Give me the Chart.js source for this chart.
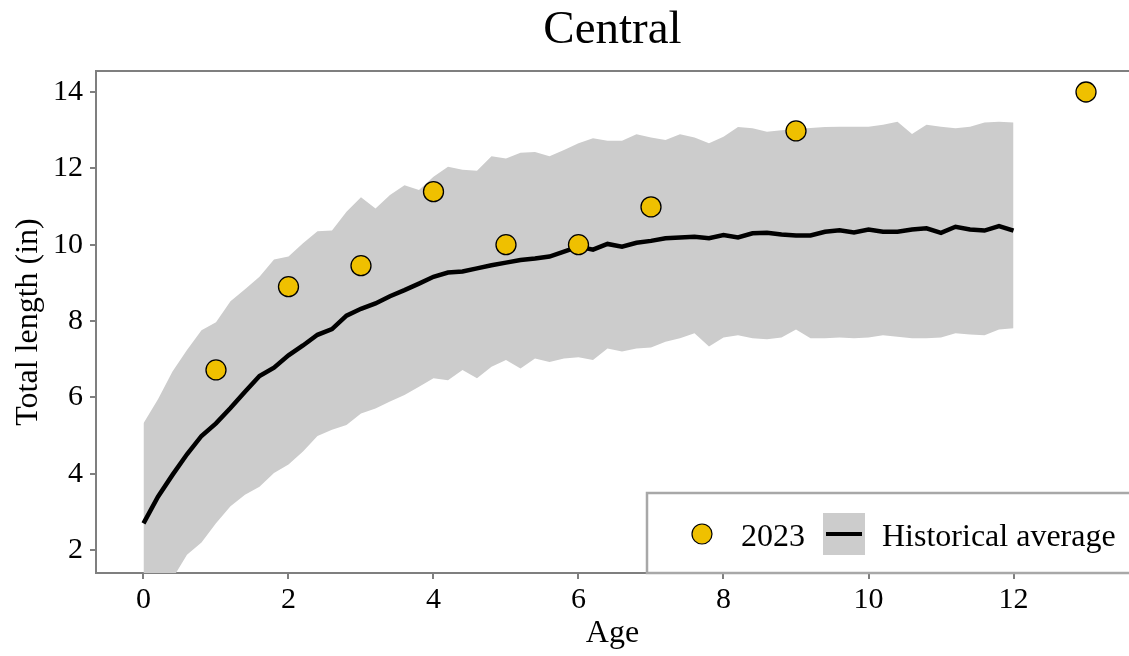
<!DOCTYPE html>
<html>
<head>
<meta charset="utf-8">
<script src="https://cdn.jsdelivr.net/npm/chart.js@4.4.1/dist/chart.umd.min.js"></script>
<style>
  html, body { margin: 0; padding: 0; background: #fff; overflow: hidden; }
  #wrap { width: 1129px; height: 656px; overflow: hidden; position: relative; }
</style>
</head>
<body>
<div id="wrap"><canvas id="chartCentral"></canvas></div>
<script>
const ages = [0, 0.2, 0.4, 0.6, 0.8, 1, 1.2, 1.4, 1.6, 1.8, 2, 2.2, 2.4, 2.6, 2.8, 3, 3.2, 3.4, 3.6, 3.8,
  4, 4.2, 4.4, 4.6, 4.8, 5, 5.2, 5.4, 5.6, 5.8, 6, 6.2, 6.4, 6.6, 6.8, 7, 7.2, 7.4, 7.6, 7.8,
  8, 8.2, 8.4, 8.6, 8.8, 9, 9.2, 9.4, 9.6, 9.8, 10, 10.2, 10.4, 10.6, 10.8, 11, 11.2, 11.4, 11.6, 11.8, 12]

const histMean = [2.70, 3.40, 3.97, 4.51, 4.99, 5.32, 5.72, 6.15, 6.56, 6.78, 7.10, 7.36, 7.64, 7.79, 8.14, 8.32, 8.46, 8.65, 8.81, 8.98,
  9.16, 9.27, 9.30, 9.38, 9.46, 9.53, 9.60, 9.64, 9.69, 9.82, 9.95, 9.87, 10.02, 9.95, 10.05, 10.10, 10.17, 10.19, 10.21, 10.17,
  10.25, 10.19, 10.30, 10.31, 10.27, 10.24, 10.24, 10.34, 10.38, 10.32, 10.40, 10.34, 10.34, 10.40, 10.43, 10.31, 10.47, 10.40, 10.37, 10.49, 10.37]

const histUpper = [5.32, 5.95, 6.68, 7.24, 7.76, 7.97, 8.52, 8.83, 9.16, 9.61, 9.69, 10.04, 10.35, 10.37, 10.86, 11.24, 10.95, 11.30, 11.56, 11.43,
  11.78, 12.04, 11.96, 11.94, 12.32, 12.26, 12.41, 12.43, 12.32, 12.48, 12.66, 12.79, 12.72, 12.72, 12.89, 12.81, 12.74, 12.89, 12.81, 12.66,
  12.83, 13.08, 13.05, 12.96, 13.00, 13.03, 13.06, 13.08, 13.09, 13.09, 13.09, 13.14, 13.22, 12.90, 13.14, 13.09, 13.05, 13.09, 13.20, 13.22, 13.20]

const histLower = [0.00, 0.70, 1.25, 1.88, 2.20, 2.70, 3.15, 3.45, 3.66, 4.02, 4.24, 4.58, 4.99, 5.15, 5.28, 5.58, 5.71, 5.89, 6.06, 6.28,
  6.50, 6.45, 6.72, 6.50, 6.80, 6.98, 6.76, 7.02, 6.93, 7.02, 7.05, 6.98, 7.28, 7.20, 7.28, 7.31, 7.46, 7.55, 7.68, 7.33,
  7.57, 7.63, 7.55, 7.52, 7.57, 7.78, 7.55, 7.55, 7.57, 7.55, 7.57, 7.63, 7.59, 7.55, 7.55, 7.57, 7.68, 7.65, 7.63, 7.78, 7.81]

const ages2023 = [1, 2, 3, 4, 5, 6, 7, 9, 13]
const length2023 = [6.72, 8.90, 9.45, 11.39, 10.0, 10.0, 10.99, 12.98, 14.0]

const xTicks = [0, 2, 4, 6, 8, 10, 12]
const yTicks = [2, 4, 6, 8, 10, 12, 14]

const serif = "'Liberation Serif', 'Times New Roman', serif"
const axisGrey = '#7f7f7f'
const bandGrey = '#cccccc'
const gold = '#efc000'

const toXY = (xs, ys) => xs.map((x, i) => ({ x: x, y: ys[i] }))

// top edge of the panel and the boxed legend in the bottom right
const panelAndLegend = {
  id: 'panelAndLegend',
  afterDraw(chart) {
    const { ctx, chartArea } = chart
    ctx.save()
    ctx.strokeStyle = axisGrey
    ctx.lineWidth = 2
    ctx.beginPath()
    ctx.moveTo(chartArea.left - 1, chartArea.top)
    ctx.lineTo(chart.width, chartArea.top)
    ctx.stroke()

    const bx = 647
    const by = 493
    const bh = chartArea.bottom - by
    ctx.fillStyle = '#fff'
    ctx.fillRect(bx, by, 520, bh)
    ctx.strokeStyle = '#a8a8a8'
    ctx.lineWidth = 2.5
    ctx.strokeRect(bx, by, 520, bh)

    const cy = by + bh / 2 + 1
    ctx.beginPath()
    ctx.arc(702, cy, 10, 0, Math.PI * 2)
    ctx.fillStyle = gold
    ctx.fill()
    ctx.lineWidth = 1.2
    ctx.strokeStyle = '#000'
    ctx.stroke()

    ctx.font = '32px ' + serif
    ctx.fillStyle = '#000'
    ctx.textBaseline = 'alphabetic'
    ctx.textAlign = 'left'
    ctx.fillText(chart.data.datasets[0].label, 741, cy + 12)

    ctx.fillStyle = bandGrey
    ctx.fillRect(823, cy - 21, 42, 42)
    ctx.strokeStyle = '#000'
    ctx.lineWidth = 4
    ctx.beginPath()
    ctx.moveTo(826, cy)
    ctx.lineTo(862, cy)
    ctx.stroke()

    ctx.fillStyle = '#000'
    ctx.fillText(chart.data.datasets[1].label, 882, cy + 12)
    ctx.restore()
  }
}

const ctx = document.getElementById('chartCentral').getContext('2d')

const chartCentral = new Chart(ctx, {
  type: 'scatter',
  data: {
    datasets: [
      {
        label: '2023',
        data: toXY(ages2023, length2023),
        backgroundColor: gold,
        borderColor: '#000',
        borderWidth: 1.3,
        pointRadius: 10,
        pointHoverRadius: 10,
        showLine: false,
        order: 0
      },
      {
        label: 'Historical average',
        data: toXY(ages, histMean),
        borderColor: '#000',
        borderWidth: 4.5,
        pointRadius: 0,
        showLine: true,
        tension: 0,
        fill: false,
        order: 1
      },
      {
        label: 'upper',
        data: toXY(ages, histUpper),
        borderWidth: 0,
        borderColor: 'rgba(0,0,0,0)',
        backgroundColor: bandGrey,
        pointRadius: 0,
        showLine: true,
        fill: '+1',
        order: 2
      },
      {
        label: 'lower',
        data: toXY(ages, histLower),
        borderWidth: 0,
        borderColor: 'rgba(0,0,0,0)',
        pointRadius: 0,
        showLine: true,
        fill: false,
        order: 3
      }
    ]
  },
  options: {
    responsive: true,
    maintainAspectRatio: false,
    animation: false,
    devicePixelRatio: 1,
    layout: { padding: 0, autoPadding: false },
    scales: {
      x: {
        type: 'linear',
        min: -0.655,
        max: 13.593,
        afterFit: (scale) => {
          scale.height = 83
          scale.paddingLeft = 0
          scale.paddingRight = 0
        },
        afterBuildTicks: (scale) => { scale.ticks = xTicks.map((v) => ({ value: v })) },
        grid: { drawOnChartArea: false, drawTicks: true, tickLength: 6, color: axisGrey, lineWidth: 2 },
        border: { display: true, color: axisGrey, width: 2 },
        ticks: { color: '#000', font: { family: serif, size: 30 }, padding: 3, maxRotation: 0 },
        title: { display: true, text: 'Age', color: '#000', font: { family: serif, size: 32 }, padding: { top: 0, bottom: 3 } }
      },
      y: {
        type: 'linear',
        min: 1.4,
        max: 14.55,
        afterFit: (scale) => {
          scale.width = 96
          scale.paddingTop = 0
          scale.paddingBottom = 0
        },
        afterBuildTicks: (scale) => { scale.ticks = yTicks.map((v) => ({ value: v })) },
        grid: { drawOnChartArea: false, drawTicks: true, tickLength: 6, color: axisGrey, lineWidth: 2 },
        border: { display: true, color: axisGrey, width: 2 },
        ticks: { color: '#000', font: { family: serif, size: 30 }, padding: 7 },
        title: { display: true, text: 'Total length (in)', color: '#000', font: { family: serif, size: 32 }, padding: { top: 9, bottom: 0 } }
      }
    },
    plugins: {
      title: {
        display: true,
        fullSize: false,
        text: 'Central',
        color: '#000',
        font: { family: serif, size: 47, weight: 'normal' },
        padding: { top: 2, bottom: 12.6 }
      },
      legend: { display: false },
      tooltip: { enabled: false }
    }
  },
  plugins: [panelAndLegend]
})
</script>
</body>
</html>
